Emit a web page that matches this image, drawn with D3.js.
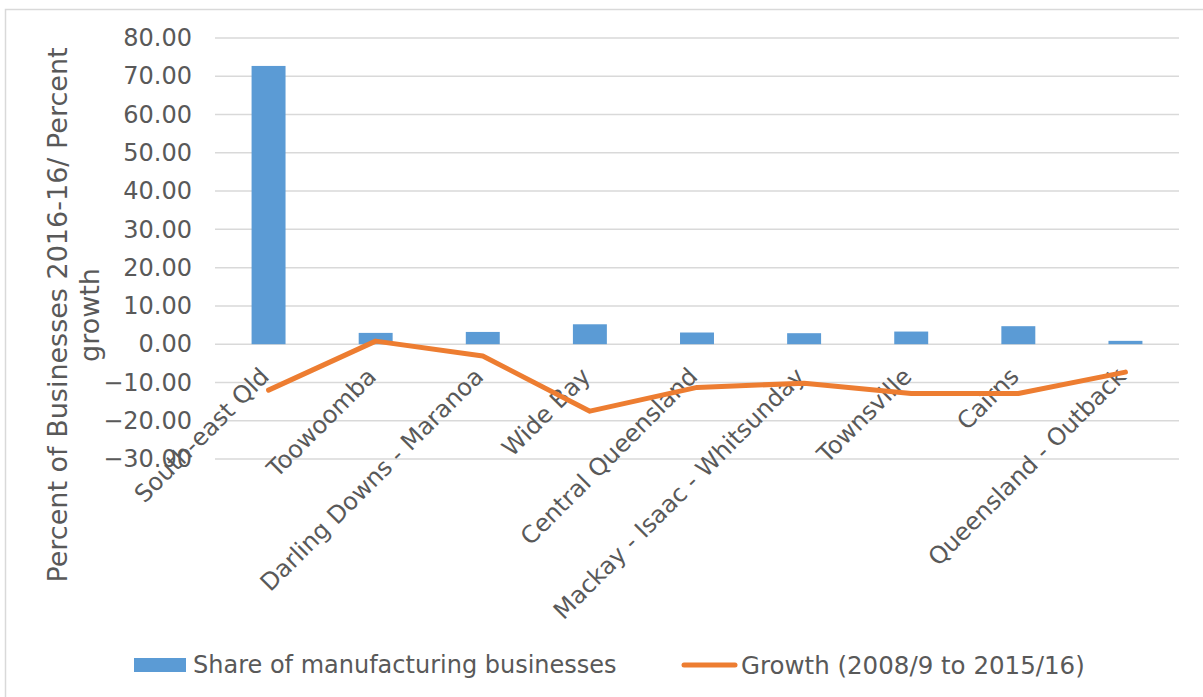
<!DOCTYPE html>
<html>
<head>
<meta charset="utf-8">
<script src="https://cdn.jsdelivr.net/npm/d3@7"></script>
<style>
  html, body { margin: 0; padding: 0; background: #fff; }
  svg { display: block; font-family: "DejaVu Sans", Verdana, sans-serif; }
</style>
</head>
<body>
<svg id="chart" width="1203" height="697"></svg>
<script>
// Regions of Queensland
const regions = [
  "South-east Qld", "Toowoomba", "Darling Downs - Maranoa", "Wide Bay",
  "Central Queensland", "Mackay - Isaac - Whitsunday", "Townsville", "Cairns",
  "Queensland - Outback"
];
// Share of manufacturing businesses, 2015-16 (%)
const shareValues = [72.7, 2.95, 3.2, 5.2, 3.05, 2.87, 3.3, 4.7, 0.87];
// Growth in number of businesses, 2008/9 to 2015/16 (%)
const growthValues = [-12.0, 0.8, -3.1, -17.5, -11.3, -10.2, -12.9, -12.9, -7.3];
// Value axis ticks
const yTicks = [80, 70, 60, 50, 40, 30, 20, 10, 0, -10, -20, -30];
const legendLabels = ["Share of manufacturing businesses", "Growth (2008/9 to 2015/16)"];
const axisTitleLines = ["Percent of Businesses 2016-16/ Percent", "growth"];

const BLUE = "#5B9BD5", ORANGE = "#ED7D31", GRID = "#D9D9D9", TEXT = "#595959";
const FONT = "'DejaVu Sans', Verdana, sans-serif";

const svg = d3.select("#chart");

// Outer chart frame (top and left edges)
svg.append("path")
  .attr("d", "M5.5,697 V9.5 H1203")
  .attr("fill", "none")
  .attr("stroke", "#D9D9D9")
  .attr("stroke-width", 1.5);

const x = d3.scaleBand()
  .domain(regions)
  .range([215, 1179])
  .paddingInner(0.683)
  .paddingOuter(0.683 / 2);

const y = d3.scaleLinear().domain([-30, 80]).range([459, 38]);

// Gridlines
svg.append("g").selectAll("line")
  .data(yTicks)
  .join("line")
  .attr("x1", 215).attr("x2", 1179)
  .attr("y1", d => y(d)).attr("y2", d => y(d))
  .attr("stroke", GRID).attr("stroke-width", 1.5);

// Value axis labels
const yAxis = d3.axisLeft(y)
  .tickValues(yTicks)
  .tickFormat(d3.format(".2f"))
  .tickSize(0)
  .tickPadding(0);
const gy = svg.append("g").attr("transform", "translate(192,0)").call(yAxis);
gy.select(".domain").remove();
gy.selectAll("text")
  .attr("fill", TEXT)
  .style("font-size", "24px")
  .style("font-family", FONT);

// Bars
svg.append("g").selectAll("rect")
  .data(regions)
  .join("rect")
  .attr("x", d => x(d))
  .attr("width", x.bandwidth())
  .attr("y", (d, i) => y(Math.max(0, shareValues[i])))
  .attr("height", (d, i) => Math.abs(y(shareValues[i]) - y(0)))
  .attr("fill", BLUE);

// Category labels, rotated
const catAxis = d3.axisBottom(x).tickSize(0).tickPadding(0);
const gx = svg.append("g").call(catAxis);
gx.select(".domain").remove();
gx.selectAll(".tick").attr("transform", d => `translate(${x(d) + x.bandwidth() / 2 + 2},378)`);
gx.selectAll("text")
  .attr("y", 0).attr("dy", 0)
  .attr("text-anchor", "end")
  .attr("transform", "rotate(-45)")
  .attr("fill", TEXT)
  .style("font-size", "24px")
  .style("font-family", FONT);

// Growth line
const line = d3.line()
  .x((d, i) => x(regions[i]) + x.bandwidth() / 2)
  .y(d => y(d));
svg.append("path")
  .datum(growthValues)
  .attr("d", line)
  .attr("fill", "none")
  .attr("stroke", ORANGE)
  .attr("stroke-width", 5)
  .attr("stroke-linejoin", "round")
  .attr("stroke-linecap", "round");

// Axis title
const title = svg.append("text")
  .attr("transform", "translate(67,315) rotate(-90)")
  .attr("text-anchor", "middle")
  .attr("fill", TEXT)
  .style("font-size", "27px");
title.selectAll("tspan")
  .data(axisTitleLines)
  .join("tspan")
  .attr("x", 0)
  .attr("dy", (d, i) => i === 0 ? 0 : 32)
  .text(d => d);

// Legend
const legend = svg.append("g");
legend.append("rect")
  .attr("x", 134).attr("y", 658).attr("width", 52).attr("height", 14)
  .attr("fill", BLUE);
legend.append("text")
  .attr("x", 193).attr("y", 665).attr("dy", "0.35em")
  .attr("fill", TEXT).style("font-size", "24px")
  .text(legendLabels[0]);
legend.append("line")
  .attr("x1", 684).attr("x2", 735).attr("y1", 665).attr("y2", 665)
  .attr("stroke", ORANGE).attr("stroke-width", 5).attr("stroke-linecap", "round");
legend.append("text")
  .attr("x", 741).attr("y", 665).attr("dy", "0.35em")
  .attr("fill", TEXT).style("font-size", "24.5px")
  .text(legendLabels[1]);
</script>
</body>
</html>
